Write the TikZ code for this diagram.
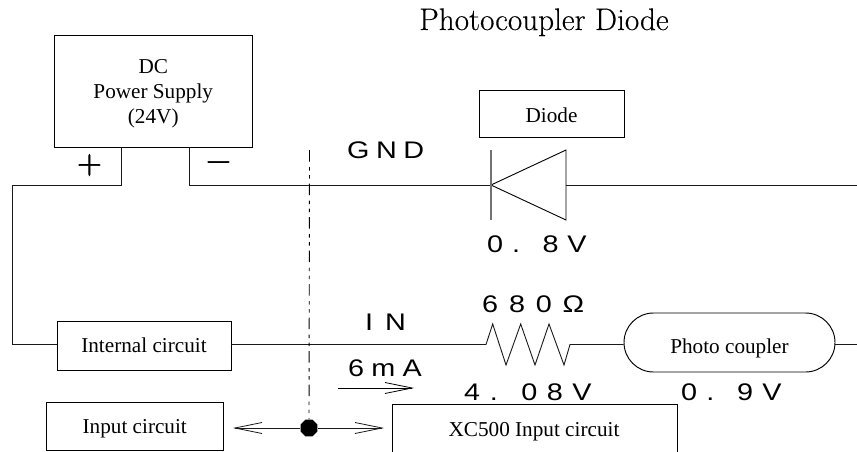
\documentclass[tikz,border=0pt]{standalone}
\usepackage{fontspec}
\usetikzlibrary{arrows.meta,shapes.misc,shapes.geometric}
\setmainfont{Latin Modern Roman}
\newfontfamily\tim{Liberation Serif}
\newfontfamily\labfont{Liberation Sans}[FakeStretch=1.2]
\newcommand{\lab}[2]{{\labfont\addfontfeature{LetterSpace=#1}\fontsize{24}{24}\selectfont #2}}
\newcommand{\drop}[2]{\raisebox{-#1}[0pt][0pt]{#2}}
\tikzset{
  x=1pt,y=-1pt,
  wire/.style={line width=0.9pt,black!90},
  boxn/.style={draw=black,line width=0.95pt,rectangle,inner sep=0,align=center,
    font=\tim\fontsize{21.2}{25}\selectfont},
  tx/.style={inner sep=0,anchor=base west},
  barb/.style={-{Straight Barb[length=27pt,width=11pt,line width=0.8pt]}},
}
\begin{document}
\begin{tikzpicture}
\useasboundingbox (0,0) rectangle (857,452);
\node[tx] (title) at (419,30) {\fontsize{31.2}{36}\selectfont\addfontfeature{FakeBold=0.25} Photocoupler Diode};
\node[boxn,minimum width=198.5pt,minimum height=112pt] (psu) at (153.25,91) {\drop{7.5pt}{\parbox{180pt}{\centering DC\\Power Supply\\(24V)}}};
\node[boxn,minimum width=145pt,minimum height=47pt] (diodebox) at (551.5,114) {\drop{8pt}{Diode}};
\node[boxn,minimum width=174pt,minimum height=49pt] (internal) at (144,345.5) {\drop{7pt}{Internal circuit}};
\node[boxn,minimum width=176.5pt,minimum height=48pt] (inputc) at (134.75,426) {\drop{7pt}{Input circuit}};
\node[rounded rectangle,draw=black,line width=0.95pt,minimum width=211pt,minimum height=59pt,inner sep=0,font=\tim\fontsize{21.2}{25}\selectfont] (photo) at (729.5,342.5) {\drop{10.5pt}{Photo coupler}};
\coordinate (p1) at (121,147);
\coordinate (p2) at (121,185);
\coordinate (p3) at (12,185);
\coordinate (p4) at (12,344.5);
\draw[wire] (p1) -- (p2) -- (p3) -- (p4) -- (internal.west |- p4);
\coordinate (m1) at (189.5,147);
\coordinate (m2) at (189.5,185);
\coordinate (cath) at (491,185);
\coordinate (anode) at (566,185);
\coordinate (rend) at (857,185);
\draw[wire] (m1) -- (m2) -- (cath);
\draw[wire] (anode) -- (rend);
\draw[line width=0.9pt,black] (cath) -- (566,150) -- (566,220) -- cycle;
\draw[line width=1.3pt,black!55] (491,150) -- (491,220);
\coordinate (r0) at (486,344.5);
\coordinate (r1) at (570,344.5);
\draw[wire] (internal.east |- r0) -- (r0) -- (492.7,324) -- (506,365) -- (520.7,324) -- (535,365) -- (549,324) -- (564,365) -- (r1) -- (photo.west |- r1);
\coordinate (out) at (857,344.5);
\draw[wire] (photo.east |- out) -- (out);
\node[regular polygon,regular polygon sides=8,fill=black,inner sep=0,minimum size=18pt] (dot) at (309,428) {};
\coordinate (dtop) at (309.5,150);
\draw[line width=0.9pt,dash pattern=on 11.5pt off 5.5pt on 3.5pt off 4.5pt on 3.5pt off 5pt] (dtop) -- (dot);
\coordinate (al) at (233,428);
\coordinate (ar) at (384,428);
\draw[wire,barb] (dot) -- (al);
\draw[wire,barb] (dot) -- (ar);
\coordinate (c1) at (338,388);
\coordinate (c2) at (414,388);
\draw[line width=0.8pt,barb] (c1) -- (c2);
\coordinate (x1) at (392,452);
\coordinate (x2) at (392,404);
\coordinate (x3) at (677,404);
\coordinate (x4) at (677,452);
\draw[line width=0.95pt] (x1) -- (x2) -- (x3) -- (x4);
\node[inner sep=0,anchor=base,font=\tim\fontsize{21.2}{25}\selectfont] (xc) at (534,436) {XC500 Input circuit};
\node[tx] (plus) at (77,173.5) {\fontsize{34}{36}\selectfont\addfontfeature{FakeBold=2} +};
\node[tx] (minus) at (206,170.5) {\fontsize{34}{36}\selectfont\addfontfeature{FakeBold=2} −};
\node[tx] (gnd) at (347,158) {\lab{27}{GND}};
\node[tx] (inl) at (365,330) {\lab{50}{IN}};
\node[tx] (ma) at (348,376) {\lab{30}{6mA}};
\node[tx] (v08) at (487,252) {\lab{37}{0. 8V}};
\node[tx] (r680) at (482,312) {\lab{45}{680Ω}};
\node[tx] (v408) at (464,400) {\lab{40}{4. 08V}};
\node[tx] (v09) at (681,400) {\lab{38}{0. 9V}};
\end{tikzpicture}
\end{document}
